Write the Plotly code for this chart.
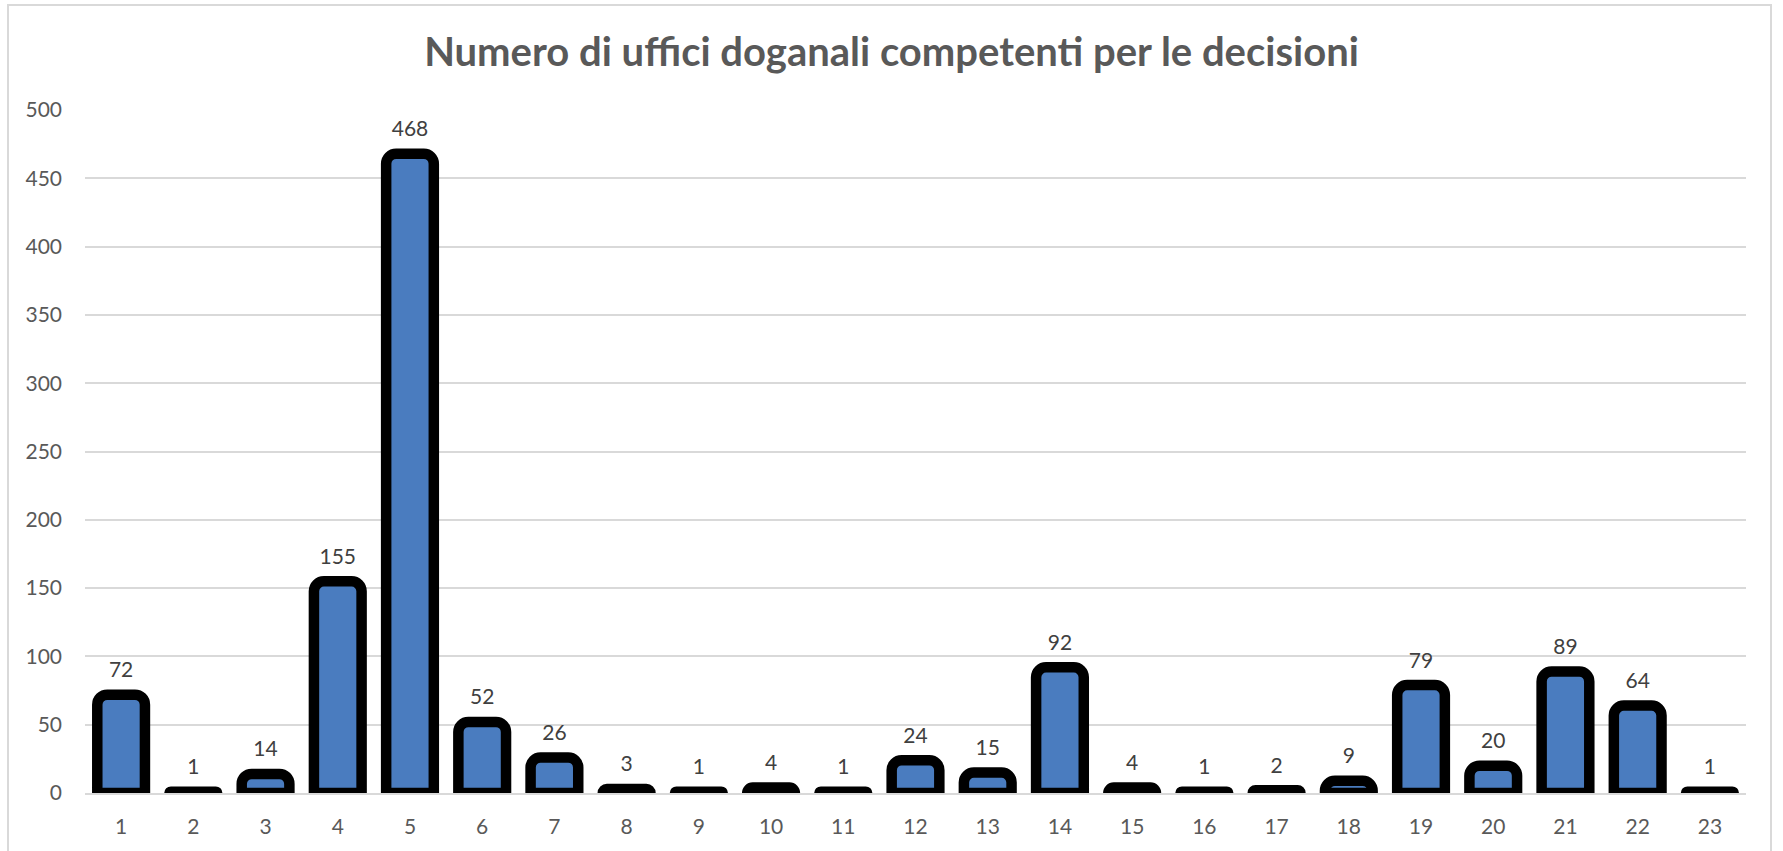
import plotly.graph_objects as go

categories = [str(i) for i in range(1, 24)]
values = [72, 1, 14, 155, 468, 52, 26, 3, 1, 4, 1, 24, 15, 92, 4, 1, 2, 9, 79, 20, 89, 64, 1]
y_ticks = [0, 50, 100, 150, 200, 250, 300, 350, 400, 450, 500]
title_text = "Numero di uffici doganali competenti per le decisioni"

FONT = "Lato"
GRAY = "#595959"

fig = go.Figure()
fig.add_trace(go.Bar(
    x=categories,
    y=values,
    marker=dict(color="#4A7CBF", line=dict(color="black", width=10.5), cornerradius=10),
    cliponaxis=False,
    hoverinfo="x+y",
))
fig.add_trace(go.Scatter(
    x=categories,
    y=values,
    mode="markers+text",
    text=[str(v) for v in values],
    textposition="top center",
    textfont=dict(family=FONT, size=21, color="#404040"),
    marker=dict(size=18, opacity=0),
    cliponaxis=False,
    hoverinfo="skip",
))

fig.update_layout(
    width=1783, height=851,
    paper_bgcolor="white", plot_bgcolor="white",
    margin=dict(l=85, r=37, t=110, b=58),
    bargap=0.34,
    showlegend=False,
    title=dict(text=f"<b>{title_text}</b>", x=0.5, xanchor="center", y=1 - 52 / 851, yanchor="middle",
               font=dict(family=FONT, size=40, color=GRAY)),
    font=dict(family=FONT, size=21, color=GRAY),
    xaxis=dict(type="category", range=[-0.5, len(categories) - 0.5], showgrid=False, showline=True,
               linecolor="#D9D9D9", linewidth=2,
               layer="above traces", ticks="", ticklabelstandoff=14,
               tickfont=dict(family=FONT, size=21, color=GRAY)),
    yaxis=dict(range=[0, 500], tickvals=y_ticks, showgrid=True, gridcolor="#D9D9D9", gridwidth=1.5,
               zeroline=False, showline=False, ticks="", ticklabelstandoff=22,
               tickfont=dict(family=FONT, size=21, color=GRAY)),
    shapes=[dict(type="rect", xref="paper", yref="paper",
                 x0=(8 - 85) / 1661, x1=(1771 - 85) / 1661,
                 y0=-0.2, y1=(793 - 5) / 683,
                 line=dict(color="#D9D9D9", width=2), fillcolor="rgba(0,0,0,0)", layer="below")],
)

fig.write_html("out.html", config={"displayModeBar": False},
               post_script="document.body.style.margin='0';document.body.style.overflow='hidden';")
